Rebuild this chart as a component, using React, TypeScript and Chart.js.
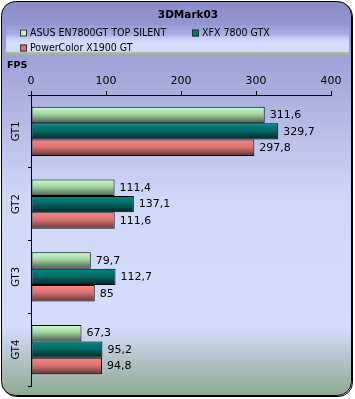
import { useEffect, useRef } from 'react';
import { Chart, registerables } from 'chart.js';

Chart.register(...registerables);

const chartTitle = '3DMark03';
const axisTitle = 'FPS';
const categories = ['GT1', 'GT2', 'GT3', 'GT4'];
const seriesNames = ['ASUS EN7800GT TOP SILENT', 'XFX 7800 GTX', 'PowerColor X1900 GT'];
const asusValues = [311.6, 111.4, 79.7, 67.3];
const xfxValues = [329.7, 137.1, 112.7, 95.2];
const powerColorValues = [297.8, 111.6, 85, 94.8];
const xTicks = [0, 100, 200, 300, 400];

const FONT = '"DejaVu Sans", Verdana, sans-serif';

// gradient stops per series: top, middle, bottom
const barGradients = [
  ['#ccffcc', '#a4d4a4', '#4a5c4a'],
  ['#008a82', '#006a66', '#002424'],
  ['#ff8484', '#d87272', '#603434'],
];
const legendBoxColors = ['#c4f4c4', '#007870', '#e87070'];

const bgPlugin = {
  id: 'bgPlugin',
  beforeDraw(chart: any) {
    const ctx = chart.ctx as CanvasRenderingContext2D;
    const W = chart.width;
    const H = chart.height;
    ctx.save();
    // shadow
    ctx.beginPath();
    ctx.roundRect(2.5, 2.5, W - 5, H - 5, 14);
    ctx.strokeStyle = '#000';
    ctx.lineWidth = 1;
    ctx.stroke();
    // body
    const g = ctx.createLinearGradient(0, 0, 0, H);
    g.addColorStop(0, '#8a8cc8');
    g.addColorStop(0.5, '#d0d8f8');
    g.addColorStop(0.82, '#d4dcfc');
    g.addColorStop(1, '#8aa68a');
    ctx.beginPath();
    ctx.roundRect(1.5, 1.5, W - 5, H - 5, 14);
    ctx.fillStyle = g;
    ctx.fill();
    ctx.stroke();

    // legend band
    const lg = ctx.createLinearGradient(0, 25, 0, 55);
    lg.addColorStop(0, '#959ad4');
    lg.addColorStop(0.3, '#a8aee2');
    lg.addColorStop(0.45, '#c8d0f8');
    lg.addColorStop(0.6, '#d4dcff');
    lg.addColorStop(0.88, '#d2daf8');
    lg.addColorStop(0.92, '#a8bca8');
    lg.addColorStop(1, '#98b098');
    ctx.fillStyle = lg;
    ctx.fillRect(6, 25, 343, 30);

    // title
    ctx.fillStyle = '#000';
    ctx.font = `bold 10.5px ${FONT}`;
    ctx.textAlign = 'center';
    ctx.textBaseline = 'middle';
    ctx.fillText(chartTitle, 188, 15);

    // legend items
    const legendPos = [
      [20, 33],
      [192, 33],
      [20, 48],
    ];
    ctx.font = `11px ${FONT}`;
    ctx.textAlign = 'left';
    chart.data.datasets.forEach((ds: any, i: number) => {
      const [x, y] = legendPos[i];
      ctx.fillStyle = legendBoxColors[i];
      ctx.fillRect(x, y - 3.5, 7, 7);
      ctx.strokeStyle = '#303030';
      ctx.lineWidth = 1;
      ctx.strokeRect(x + 0.5, y - 3.5 + 0.5, 6, 6);
      ctx.fillStyle = '#000';
      ctx.save();
      ctx.translate(x + 10, y + 0.5);
      ctx.scale(0.86, 1);
      ctx.fillText(ds.label, 0, 0);
      ctx.restore();
    });

    // axis title
    ctx.font = `bold 9.5px ${FONT}`;
    ctx.textAlign = 'left';
    ctx.fillText(axisTitle, 7, 66);
    ctx.restore();
  },
  beforeDatasetsDraw(chart: any) {
    const ctx = chart.ctx as CanvasRenderingContext2D;
    chart.data.datasets.forEach((_ds: any, di: number) => {
      const meta = chart.getDatasetMeta(di);
      const stops = barGradients[di];
      meta.data.forEach((el: any) => {
        const top = el.y - el.height / 2;
        const bottom = el.y + el.height / 2;
        const gr = ctx.createLinearGradient(0, top, 0, bottom);
        gr.addColorStop(0, stops[0]);
        gr.addColorStop(0.45, stops[1]);
        gr.addColorStop(1, stops[2]);
        el.options = Object.assign({}, el.options, { backgroundColor: gr });
      });
    });
  },
  afterDatasetsDraw(chart: any) {
    const ctx = chart.ctx as CanvasRenderingContext2D;
    ctx.save();
    ctx.font = `11px ${FONT}`;
    ctx.fillStyle = '#000';
    ctx.textAlign = 'left';
    ctx.textBaseline = 'middle';
    chart.data.datasets.forEach((ds: any, di: number) => {
      const meta = chart.getDatasetMeta(di);
      meta.data.forEach((el: any, i: number) => {
        const v = ds.data[i];
        ctx.fillText(String(v).replace('.', ','), el.x + 5, el.y + 0.5);
      });
    });
    ctx.restore();
  },
};

export default function App() {
  const ref = useRef<HTMLCanvasElement>(null);
  useEffect(() => {
    const canvas = ref.current;
    if (!canvas) return;
    const values = [asusValues, xfxValues, powerColorValues];
    const chart = new Chart(canvas, {
      type: 'bar',
      data: {
        labels: categories,
        datasets: values.map((d, i) => ({
          label: seriesNames[i],
          data: d,
          backgroundColor: legendBoxColors[i],
          borderColor: '#000',
          borderWidth: 1,
          borderSkipped: false,
          categoryPercentage: 0.68,
          barPercentage: 1,
        })),
      },
      options: {
        indexAxis: 'y',
        responsive: false,
        animation: false,
        devicePixelRatio: 1,
        layout: { padding: { top: 70, left: 8, right: 24, bottom: 13 } },
        plugins: {
          legend: { display: false },
          title: { display: false },
          tooltip: { enabled: false },
        },
        scales: {
          x: {
            position: 'top',
            min: 0,
            max: 400,
            afterBuildTicks: (scale: any) => {
              scale.ticks = xTicks.map((v) => ({ value: v }));
            },
            afterFit: (scale: any) => {
              scale.height = 25;
            },
            ticks: {
              color: '#000',
              font: { family: FONT, size: 11 },
              padding: 3,
            },
            grid: {
              drawOnChartArea: false,
              drawTicks: true,
              tickLength: 4,
              color: '#000',
            },
            border: { display: true, color: '#000', width: 1 },
          },
          y: {
            afterFit: (scale: any) => {
              scale.width = 23;
            },
            ticks: {
              color: '#000',
              font: { family: FONT, size: 10 },
              minRotation: 90,
              maxRotation: 90,
              crossAlign: 'center',
              padding: 2,
            },
            grid: {
              drawOnChartArea: false,
              drawTicks: true,
              tickLength: 3,
              color: '#000',
            },
            border: { display: true, color: '#000', width: 1 },
          },
        },
      },
      plugins: [bgPlugin],
    } as any);
    return () => chart.destroy();
  }, []);
  return (
    <div style={{ position: 'absolute', left: 0, top: 0, width: 355, height: 399 }}>
      <canvas ref={ref} width={355} height={399} style={{ display: 'block' }} />
    </div>
  );
}
